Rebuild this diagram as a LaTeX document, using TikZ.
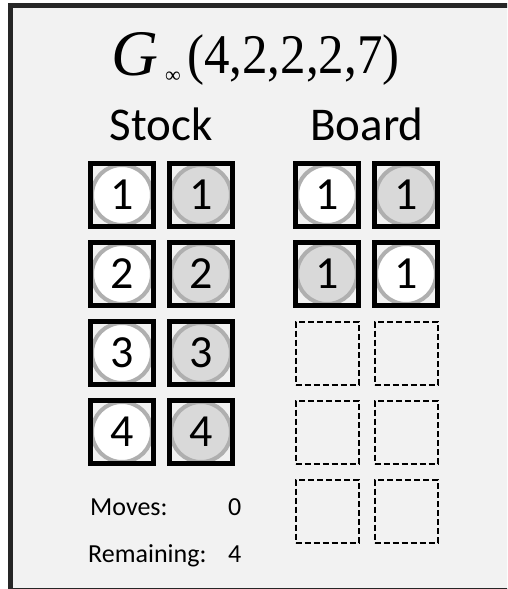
\documentclass[tikz,border=0pt]{standalone}
\usepackage{graphicx}
\usepackage{fontspec}
\setmainfont{Carlito}
\newfontfamily\titleserif{Liberation Serif}
\definecolor{bgcol}{HTML}{F2F2F2}
\definecolor{framecol}{HTML}{262626}
\definecolor{discgray}{HTML}{D9D9D9}
\definecolor{discedge}{HTML}{AFAFAF}
\begin{document}
\begin{tikzpicture}[x=1pt,y=-1pt,
  cell/.style={rectangle, draw=black, line width=5pt, minimum size=63.5pt, inner sep=0pt},
  slot/.style={rectangle, draw=black, line width=2pt, dash pattern=on 6pt off 3pt, minimum size=63pt, inner sep=0pt},
  disc/.style={circle, draw=discedge, line width=4pt, minimum size=60pt, inner sep=0pt, font=\fontsize{46}{46}\selectfont},
  wdisc/.style={disc, fill=white},
  gdisc/.style={disc, fill=discgray},
  head/.style={anchor=base, inner sep=0pt, font=\fontsize{47}{47}\selectfont},
  info/.style={anchor=base west, inner sep=0pt, font=\fontsize{26}{26}\selectfont}]
\useasboundingbox (0,0) rectangle (507,589);
\clip (0,0) rectangle (507,589);
\fill[bgcol] (10,4) rectangle (560,600);
\draw[framecol, line width=5pt] (10.8,5) rectangle (560,590.5);
% title
\node[anchor=base west, inner sep=0pt, font=\titleserif\itshape\fontsize{65}{65}\selectfont] (tG) at (111,75) {G};
\node[anchor=base west, inner sep=0pt, font=\titleserif\fontsize{22}{22}\selectfont] (tinf) at (165,82) {∞};
\node[anchor=base west, inner sep=0pt, font=\titleserif\fontsize{56}{56}\selectfont] (targs) at (187,73) {\scalebox{0.91}[1]{(4,2,2,2,7)}};
% headings
\node[head] (hstock) at (161,140) {Stock};
\node[head] (hboard) at (367,140) {Board};
% stock
\node[wdisc] (s1w) at (122,195) {1}; \node[cell] (s1wb) at (122,195) {};
\node[gdisc] (s1g) at (201,195) {1}; \node[cell] (s1gb) at (201,195) {};
\node[wdisc] (s2w) at (122,274) {2}; \node[cell] (s2wb) at (122,274) {};
\node[gdisc] (s2g) at (201,274) {2}; \node[cell] (s2gb) at (201,274) {};
\node[wdisc] (s3w) at (122,353) {3}; \node[cell] (s3wb) at (122,353) {};
\node[gdisc] (s3g) at (201,353) {3}; \node[cell] (s3gb) at (201,353) {};
\node[wdisc] (s4w) at (122,432) {4}; \node[cell] (s4wb) at (122,432) {};
\node[gdisc] (s4g) at (201,432) {4}; \node[cell] (s4gb) at (201,432) {};
% board
\node[wdisc] (b1a) at (327,195) {1}; \node[cell] (b1ab) at (327,195) {};
\node[gdisc] (b1b) at (406,195) {1}; \node[cell] (b1bb) at (406,195) {};
\node[gdisc] (b2a) at (327,274) {1}; \node[cell] (b2ab) at (327,274) {};
\node[wdisc] (b2b) at (406,274) {1}; \node[cell] (b2bb) at (406,274) {};
\node[slot] (b3a) at (327,353) {}; \node[slot] (b3b) at (406,353) {};
\node[slot] (b4a) at (327,432) {}; \node[slot] (b4b) at (406,432) {};
\node[slot] (b5a) at (327,511) {}; \node[slot] (b5b) at (406,511) {};
% info
\node[info] (moves) at (90,515) {Moves:};
\node[info] (movesv) at (228,515) {0};
\node[info] (rem) at (88,562) {Remaining:};
\node[info] (remv) at (228,562) {4};
\end{tikzpicture}
\end{document}
